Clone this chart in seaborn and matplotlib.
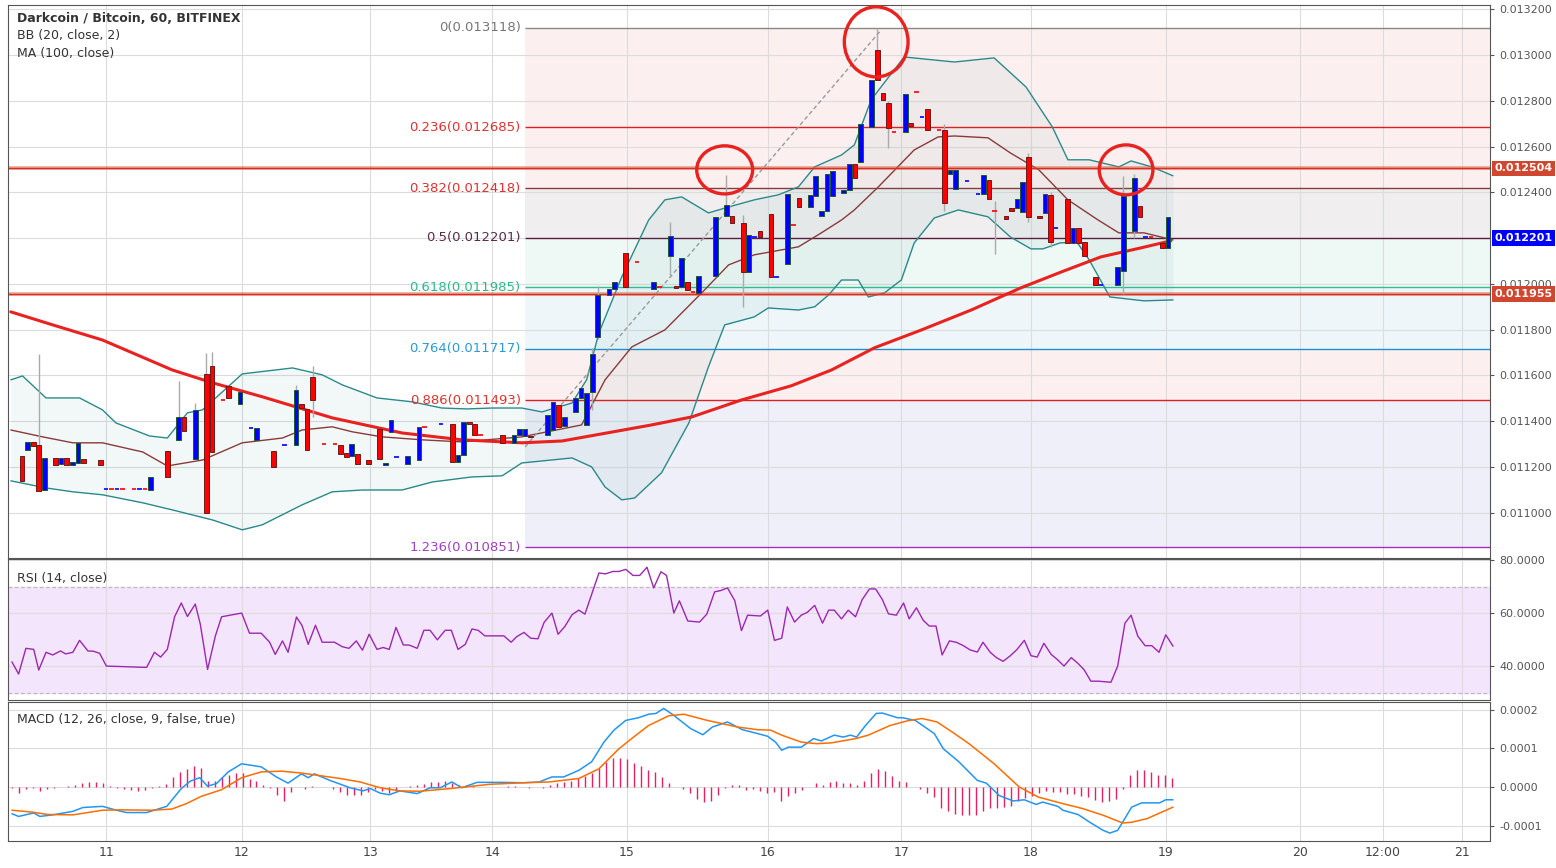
import numpy as np
import pandas as pd
import matplotlib
matplotlib.use("Agg")
import matplotlib.pyplot as plt
from matplotlib.patches import Ellipse
import seaborn as sns

# ─────────────────────────────────────────────
# DATA  (time in hours since chart start, prices in BTC)
# ─────────────────────────────────────────────
candle_hours = [2, 3, 4, 5, 6, 8, 9, 10, 11, 12, 13, 16, 17, 18, 19, 20, 22, 23, 24, 25, 28, 30, 31, 33,
                35, 36, 38, 39, 41, 43, 44, 47, 49, 51, 52, 53, 54, 56, 58, 59, 60, 61, 62, 64, 66, 67,
                68, 69, 71, 73, 74, 77, 79, 80, 81, 82, 83, 84, 88, 90, 91, 92, 93, 96, 97, 98, 99, 101,
                102, 103, 104, 105, 107, 108, 110, 112, 115, 116, 118, 119, 120, 121, 122, 123, 126, 128,
                129, 131, 132, 133, 134, 136, 137, 139, 140, 141, 143, 144, 145, 146, 147, 149, 150, 151,
                152, 154, 155, 156, 157, 158, 160, 161, 162, 163, 164, 166, 167, 168, 169, 171, 173, 174,
                175, 176, 178, 179, 180, 181, 182, 184, 185, 186, 187, 189, 190, 191, 192, 194, 195, 198,
                199, 201, 202, 203, 204, 206, 207]
candle_open = [0.011249, 0.011275, 0.011310, 0.011297, 0.011100, 0.011240, 0.011214, 0.011240, 0.011210,
               0.011218, 0.011236, 0.011231, 0.011105, 0.011105, 0.011105, 0.011105, 0.011105, 0.011105,
               0.011105, 0.011100, 0.011271, 0.011319, 0.011419, 0.011236, 0.011607, 0.011642, 0.011493,
               0.011555, 0.011476, 0.011371, 0.011319, 0.011271, 0.011297, 0.011297, 0.011476, 0.011454,
               0.011594, 0.011301, 0.011301, 0.011297, 0.011262, 0.011249, 0.011258, 0.011231, 0.011367,
               0.011210, 0.011354, 0.011245, 0.011214, 0.011231, 0.011376, 0.011389, 0.011389, 0.011223,
               0.011253, 0.011397, 0.011389, 0.011341, 0.011341, 0.011306, 0.011341, 0.011336, 0.011336,
               0.011341, 0.011362, 0.011472, 0.011380, 0.011441, 0.011502, 0.011384, 0.011528, 0.011769,
               0.011952, 0.011978, 0.012135, 0.012096, 0.011978, 0.011987, 0.012122, 0.011991, 0.011987,
               0.012009, 0.011965, 0.011961, 0.012035, 0.012297, 0.012297, 0.012266, 0.012052, 0.012205,
               0.012231, 0.012306, 0.012031, 0.012087, 0.012258, 0.012376, 0.012336, 0.012384, 0.012297,
               0.012319, 0.012384, 0.012397, 0.012410, 0.012524, 0.012533, 0.012686, 0.013022, 0.012834,
               0.012790, 0.012664, 0.012664, 0.012703, 0.012838, 0.012729, 0.012764, 0.012673, 0.012673,
               0.012480, 0.012415, 0.012450, 0.012393, 0.012393, 0.012454, 0.012319, 0.012297, 0.012332,
               0.012332, 0.012314, 0.012555, 0.012297, 0.012310, 0.012389, 0.012245, 0.012371, 0.012179,
               0.012245, 0.012183, 0.012031, 0.011996, 0.011996, 0.012057, 0.012231, 0.012341, 0.012205,
               0.012205, 0.012179, 0.012157]
candle_close = [0.011140, 0.011310, 0.011293, 0.011096, 0.011240, 0.011210, 0.011240, 0.011210, 0.011223,
                0.011306, 0.011218, 0.011210, 0.011105, 0.011105, 0.011105, 0.011105, 0.011105, 0.011105,
                0.011105, 0.011157, 0.011157, 0.011419, 0.011358, 0.011450, 0.011000, 0.011266, 0.011493,
                0.011502, 0.011528, 0.011371, 0.011371, 0.011201, 0.011297, 0.011537, 0.011458, 0.011275,
                0.011493, 0.011301, 0.011301, 0.011258, 0.011245, 0.011301, 0.011214, 0.011214, 0.011236,
                0.011218, 0.011406, 0.011245, 0.011249, 0.011376, 0.011376, 0.011389, 0.011223, 0.011253,
                0.011397, 0.011389, 0.011341, 0.011341, 0.011306, 0.011341, 0.011367, 0.011367, 0.011332,
                0.011428, 0.011485, 0.011376, 0.011419, 0.011502, 0.011546, 0.011524, 0.011694, 0.011952,
                0.011978, 0.012009, 0.011987, 0.012096, 0.012009, 0.011987, 0.012210, 0.011983, 0.012114,
                0.011974, 0.011965, 0.012035, 0.012293, 0.012345, 0.012266, 0.012052, 0.012214, 0.012205,
                0.012205, 0.012031, 0.012031, 0.012393, 0.012258, 0.012336, 0.012389, 0.012472, 0.012319,
                0.012480, 0.012493, 0.012410, 0.012524, 0.012463, 0.012699, 0.012891, 0.012891, 0.012804,
                0.012681, 0.012664, 0.012830, 0.012690, 0.012838, 0.012729, 0.012673, 0.012673, 0.012354,
                0.012498, 0.012498, 0.012450, 0.012393, 0.012476, 0.012371, 0.012319, 0.012284, 0.012319,
                0.012371, 0.012445, 0.012293, 0.012288, 0.012393, 0.012183, 0.012245, 0.012179, 0.012245,
                0.012179, 0.012122, 0.011996, 0.011996, 0.012074, 0.012384, 0.012463, 0.012293, 0.012205,
                0.012205, 0.012157, 0.012293]

wick_hours = [5, 30, 33, 35, 36, 51, 54, 104, 105, 118, 128, 131, 155, 157, 167, 176, 182, 186, 199, 201]
wick_low = [0.011096, 0.011319, 0.011236, 0.011000, 0.011266, 0.011297, 0.011420, 0.011450, 0.011760,
            0.012030, 0.012297, 0.011900, 0.012891, 0.012594, 0.012320, 0.012131, 0.012270, 0.012160,
            0.011957, 0.012200]
wick_high = [0.011694, 0.011576, 0.011480, 0.011699, 0.011703, 0.011560, 0.011640, 0.011720, 0.011990,
             0.012270, 0.012476, 0.012300, 0.013118, 0.012800, 0.012700, 0.012360, 0.012570, 0.012400,
             0.012472, 0.012480]

ma_hours = [0, 7.5, 16.4, 28.9, 36.1, 45, 57.5, 70, 80.7, 91.4, 98.6, 105.7, 114.6, 121.8, 130.7, 139.6,
            146.8, 154.5, 162.9, 171.8, 180.7, 187.9, 195, 202.1, 207.5]
ma_vals = [0.011878, 0.011821, 0.011755, 0.011624, 0.011568, 0.011507, 0.011415, 0.011349, 0.011319,
           0.011306, 0.011314, 0.011345, 0.011384, 0.011419, 0.011493, 0.011555, 0.011624, 0.011721,
           0.011799, 0.011886, 0.011983, 0.012052, 0.012118, 0.012157, 0.012188]

bb_up_hours = [0, 2.1, 6.3, 12.3, 16.4, 18.8, 24.8, 28, 31.6, 34.3, 41.4, 50.4, 55.7, 59.3, 65.5, 71.8,
               77.1, 81.6, 86.1, 91.4, 95, 100.4, 103, 105.2, 109.3, 114.1, 117, 120, 124.8, 128.4, 133,
               137.3, 140.9, 143.8, 148.6, 150.9, 153.9, 159.8, 168.8, 175.9, 181.6, 186.3, 189.1, 192.9,
               198.2, 200.4, 204.1, 207.9]
bb_up_vals = [0.011581, 0.011598, 0.011502, 0.011502, 0.011450, 0.011393, 0.011336, 0.011327, 0.011437,
              0.011450, 0.011607, 0.011633, 0.011603, 0.011559, 0.011502, 0.011485, 0.011458, 0.011454,
              0.011458, 0.011458, 0.011441, 0.011480, 0.011581, 0.011786, 0.012031, 0.012279, 0.012367,
              0.012380, 0.012310, 0.012336, 0.012367, 0.012389, 0.012424, 0.012511, 0.012563, 0.012607,
              0.012804, 0.012991, 0.012969, 0.012987, 0.012860, 0.012686, 0.012542, 0.012542, 0.012511,
              0.012537, 0.012511, 0.012472]
bb_lo_hours = [0, 6.3, 11.1, 16.4, 23.6, 28.9, 36.1, 41.4, 45, 52.1, 57.5, 62.9, 70, 75.4, 82.5, 87.9,
               91.4, 100.4, 103.9, 106.3, 109.3, 111.6, 116.4, 121.3, 124.8, 127.7, 133, 135.5, 140.9,
               143.8, 146.3, 148.6, 151.6, 153.4, 156.3, 159.3, 161.6, 165.2, 169.5, 174.8, 178.8, 182.5,
               184.6, 187.7, 190.7, 192.9, 196.6, 202.7, 207.9]
bb_lo_vals = [0.011140, 0.011109, 0.011092, 0.011079, 0.011044, 0.011013, 0.010969, 0.010926, 0.010948,
              0.011035, 0.011092, 0.011100, 0.011100, 0.011135, 0.011157, 0.011162, 0.011218, 0.011240,
              0.011201, 0.011113, 0.011057, 0.011065, 0.011175, 0.011393, 0.011638, 0.011821, 0.011856,
              0.011895, 0.011886, 0.011900, 0.011952, 0.012017, 0.012017, 0.011943, 0.011961, 0.012017,
              0.012179, 0.012288, 0.012323, 0.012293, 0.012205, 0.012153, 0.012153, 0.012179, 0.012183,
              0.012105, 0.011943, 0.011926, 0.011930]
bb_mid_hours = [0, 5.7, 11.1, 16.4, 23.6, 28, 34.3, 41.4, 48.6, 52.1, 57.5, 61.1, 66.4, 73.6, 80.7, 91.4,
                102.1, 106.3, 111.1, 117, 123.6, 128.4, 133, 140.9, 145, 148.6, 150.9, 155.2, 161.6, 165.9,
                168.8, 174.8, 178.8, 183.9, 189.1, 194.5, 198.2, 202.7, 207.9]
bb_mid_vals = [0.011362, 0.011332, 0.011306, 0.011306, 0.011266, 0.011205, 0.011231, 0.011306, 0.011327,
               0.011362, 0.011376, 0.011354, 0.011332, 0.011319, 0.011310, 0.011332, 0.011384, 0.011581,
               0.011725, 0.011799, 0.011961, 0.012083, 0.012127, 0.012162, 0.012223, 0.012279, 0.012323,
               0.012424, 0.012585, 0.012642, 0.012646, 0.012638, 0.012572, 0.012498, 0.012367, 0.012279,
               0.012223, 0.012223, 0.012192]

fib_ratios = ["0", "0.236", "0.382", "0.5", "0.618", "0.764", "0.886", "1.236"]
fib_levels = [0.013118, 0.012685, 0.012418, 0.012201, 0.011985, 0.011717, 0.011493, 0.010851]
fib_start = 92
trend_hours = [92, 155.7]
trend_vals = [0.011288, 0.013109]
sr_levels = [0.012504, 0.011955]
last_price = 0.012201
price_ticks = [0.0110, 0.0112, 0.0114, 0.0116, 0.0118, 0.0120, 0.0124, 0.0126, 0.0128, 0.0130, 0.0132]
# circled spots: (hour, price, width in hours, height in price)
circles = [(154.8, 0.013057, 11.4, 0.000306), (127.7, 0.012498, 10.0, 0.000210),
           (199.5, 0.012498, 9.6, 0.000218)]

rsi_hours = [0.2, 1.4, 2.7, 4.1, 5, 6.3, 7.5, 8.9, 9.8, 11.1, 12.3, 13.8, 14.8, 15.9, 17.1, 21.6, 24.3,
             25.7, 26.8, 28, 29.3, 30.5, 31.6, 33, 33.9, 35.2, 36.6, 37.7, 41.3, 42.7, 44.8, 46.3, 47.3,
             48.6, 49.6, 51.1, 52.1, 53.2, 54.5, 55.7, 57.9, 59.3, 60.5, 61.8, 62.9, 64.1, 65.5, 66.6,
             67.7, 68.9, 70.2, 71.3, 72.7, 73.9, 75, 76.3, 77.7, 78.8, 80, 81.3, 82.5, 83.6, 84.8, 88.2,
             89.5, 90.5, 91.8, 93, 94.3, 95.4, 96.8, 97.9, 99.1, 100.4, 101.6, 102.7, 105.2, 106.4, 107.7,
             108.8, 110, 111.3, 112.5, 113.8, 115, 116.3, 117.3, 118.6, 119.6, 121.1, 123.2, 124.5, 125.9,
             127, 128.2, 129.5, 130.7, 131.8, 134.1, 135.4, 136.6, 137.9, 138.9, 140.2, 141.4, 142.5,
             143.8, 145.2, 146.3, 147.3, 148.6, 149.8, 151.1, 152.3, 153.6, 154.7, 155.9, 157, 158.4,
             159.7, 160.7, 162, 163.2, 164.3, 165.5, 166.6, 167.9, 169.1, 170.4, 171.6, 172.9, 173.9,
             175.2, 176.3, 177.5, 178.8, 180, 181.3, 182.5, 183.6, 184.8, 186.1, 187.2, 188.4, 189.7,
             190.9, 192, 193.2, 194.5, 196.8, 198, 199.3, 200.4, 201.6, 202.9, 204.1, 205.4, 206.6, 207.9]
rsi_vals = [41.6, 37, 46.7, 46.3, 38.5, 45.2, 44.2, 45.7, 44.6, 45.2, 49.7, 45.7, 45.6, 44.8, 40, 39.7,
            39.5, 45.2, 43.4, 46.3, 58.6, 63.8, 58.7, 63.4, 55.8, 38.7, 51.4, 58.6, 60, 52.4, 52.4, 49,
            44.4, 49.5, 45.2, 58.5, 55.3, 48.2, 55.4, 49, 49, 47.3, 46.7, 49.5, 46, 52, 46.3, 47, 46.3,
            54.6, 48, 47.9, 46.7, 53.5, 53.5, 49.9, 53.5, 53.5, 46.3, 48.2, 54, 53.5, 51.4, 51.4, 49,
            51.1, 52.7, 50.5, 50.3, 56.5, 60, 52, 54.9, 59.4, 61.1, 59.6, 75.1, 74.8, 75.7, 75.7, 76.5,
            74.2, 74.2, 77.3, 69.5, 75.6, 74.2, 60, 64.6, 57, 56.6, 59.6, 68, 68.5, 69.5, 64.7, 53.4,
            59.2, 58.9, 61.1, 49.7, 50.5, 62.3, 56.6, 59.2, 60.3, 62.9, 56.2, 61.1, 61.1, 57.8, 61.1,
            58.6, 65.1, 69.1, 69.1, 65.1, 59.7, 59.2, 63.8, 57.8, 62, 57.3, 55.1, 55.1, 44.2, 49.5, 49,
            47.7, 46.1, 45.3, 49, 45.2, 43.2, 41.8, 43.9, 46.3, 49.7, 43.9, 43.4, 48.6, 44.4, 42.5, 40,
            43.2, 41, 38.6, 34.3, 34.3, 33.9, 40, 56.2, 59.2, 51.3, 47.7, 47.7, 45.2, 51.8, 47.5]

macd_hours = [0.2, 1.4, 4.1, 5.2, 7.5, 11.1, 12.9, 16.4, 18.9, 20.7, 24.3, 27.9, 30.5, 32.1, 33.8, 35.2,
              36.8, 38.9, 41.3, 44.8, 47.5, 49.6, 52, 53.2, 54.3, 57.1, 60.7, 63, 64.3, 66.1, 67.7, 69.6,
              72.7, 75, 76.8, 78.9, 80.7, 83.4, 88.2, 91.8, 94.5, 96.8, 98.9, 101.6, 103.9, 106.1, 107.9,
              110, 112.3, 114.1, 115.4, 116.8, 118.6, 121.6, 123.8, 125.5, 128.2, 130.9, 133.6, 135.4,
              136.8, 137.9, 139.1, 141.4, 143.6, 145, 147.3, 148.9, 150.2, 151.3, 152.9, 154.8, 155.9,
              158.6, 159.5, 161.8, 165.2, 166.8, 169.6, 172.9, 174.5, 176.8, 179.3, 181.3, 183.4, 184.6,
              187.3, 188.2, 190.9, 193, 195.4, 196.6, 198, 200.5, 202.3, 205.5, 206.6, 207.9]
macd_vals = [-0.69, -0.76, -0.67, -0.76, -0.72, -0.63, -0.53, -0.5, -0.6, -0.66, -0.66, -0.5, -0.04,
             0.15, 0.24, 0.02, 0.09, 0.39, 0.6, 0.52, 0.26, 0.1, 0.34, 0.24, 0.34, 0.17, -0.02, -0.1,
             -0.04, -0.16, -0.2, -0.1, -0.17, -0.02, -0.02, 0.13, -0.02, 0.12, 0.12, 0.11, 0.13, 0.26,
             0.26, 0.43, 0.65, 1.16, 1.47, 1.72, 1.79, 1.88, 1.9, 2.03, 1.85, 1.51, 1.35, 1.55, 1.68,
             1.48, 1.38, 1.31, 1.16, 0.95, 1.03, 1.03, 1.25, 1.19, 1.34, 1.29, 1.34, 1.29, 1.59, 1.9,
             1.91, 1.79, 1.79, 1.72, 1.38, 0.99, 0.65, 0.17, 0.1, -0.22, -0.36, -0.33, -0.45, -0.39,
             -0.5, -0.6, -0.71, -0.91, -1.12, -1.19, -1.12, -0.52, -0.41, -0.41, -0.33, -0.33]
signal_hours = [0.2, 3.9, 6.6, 11.1, 16.4, 19.8, 25.2, 28.8, 31.4, 34.1, 37.7, 41.3, 44.8, 48.4, 52, 58.9,
                62.5, 66.1, 69.6, 73.2, 78.6, 85.7, 91.8, 96.3, 101.6, 105.2, 108.8, 111.4, 114.1, 117.7,
                120.4, 124.6, 130, 133.6, 135.9, 137.9, 141.4, 144.1, 146.8, 151.1, 153.4, 157.3, 160.4,
                163, 165.7, 168.4, 171.4, 175.9, 180.4, 183.8, 188.2, 191.8, 195.4, 198.9, 200.5, 203.2,
                207.9]
signal_vals = [-0.6, -0.65, -0.71, -0.72, -0.6, -0.59, -0.6, -0.57, -0.43, -0.24, -0.07, 0.24, 0.39, 0.41,
               0.36, 0.22, 0.13, -0.02, -0.1, -0.11, -0.04, 0.07, 0.11, 0.13, 0.22, 0.47, 0.99, 1.29,
               1.59, 1.84, 1.88, 1.72, 1.55, 1.48, 1.47, 1.34, 1.16, 1.12, 1.14, 1.25, 1.34, 1.59, 1.71,
               1.77, 1.68, 1.42, 1.12, 0.6, 0.0, -0.26, -0.43, -0.56, -0.73, -0.93, -0.91, -0.82, -0.52]
# histogram bars, one every 1.25 h starting at 0.2 h (units of 1e-4)
hist_vals = [-0.03, -0.15, -0.06, -0.02, -0.1, -0.05, -0.02, 0.01, 0.03, 0.06, 0.1, 0.12, 0.12, 0.1, 0.02,
             -0.02, -0.06, -0.08, -0.1, -0.07, -0.03, 0.02, 0.07, 0.25, 0.4, 0.47, 0.53, 0.48, 0.15, 0.15,
             0.25, 0.3, 0.35, 0.37, 0.2, 0.15, 0.05, -0.02, -0.2, -0.35, -0.12, 0.01, -0.06, 0.03, 0.0,
             0.0, -0.05, -0.12, -0.2, -0.2, -0.2, -0.12, -0.05, -0.1, -0.15, -0.1, 0.01, 0.03, 0.06, 0.08,
             0.12, 0.12, 0.15, 0.1, 0.06, 0.04, 0.02, 0.01, 0.0, 0.0, 0.01, 0.02, 0.02, 0.01, -0.02, 0.0,
             -0.02, 0.05, 0.1, 0.12, 0.15, 0.22, 0.28, 0.35, 0.5, 0.65, 0.75, 0.75, 0.72, 0.63, 0.55,
             0.45, 0.38, 0.27, 0.1, 0.0, -0.05, -0.15, -0.3, -0.38, -0.37, -0.2, -0.02, 0.05, 0.05, -0.08,
             -0.06, -0.1, -0.15, -0.13, -0.35, -0.22, -0.16, -0.08, 0.0, 0.1, 0.06, 0.13, 0.16, 0.1, 0.1,
             0.04, 0.15, 0.35, 0.46, 0.42, 0.28, 0.16, 0.12, 0.0, -0.04, -0.15, -0.25, -0.55, -0.63, -0.7,
             -0.72, -0.73, -0.72, -0.62, -0.55, -0.55, -0.52, -0.48, -0.37, -0.28, -0.22, -0.15, -0.1,
             -0.12, -0.14, -0.18, -0.18, -0.22, -0.26, -0.34, -0.38, -0.36, -0.3, -0.05, 0.3, 0.45, 0.43,
             0.38, 0.3, 0.3, 0.22]

tick_hours = [17.1, 41.3, 64.3, 86.1, 110.2, 135.4, 159.3, 182.5, 206.6, 230.7, 245.4, 259.6]
tick_labels = ["11", "12", "13", "14", "15", "16", "17", "18", "19", "20", "12:00", "21"]

# ─────────────────────────────────────────────
# FIGURE
# ─────────────────────────────────────────────
sns.set_style("white")
plt.rcParams["font.family"] = "DejaVu Sans"
fig = plt.figure(figsize=(15.56, 8.68), dpi=100)
fig.patch.set_facecolor("white")
L, W = 8 / 1556, (1490 - 8) / 1556
ax = fig.add_axes([L, 1 - 558 / 868, W, 553 / 868])
ax_rsi = fig.add_axes([L, 1 - 700 / 868, W, 141 / 868])
ax_macd = fig.add_axes([L, 1 - 841 / 868, W, 139 / 868])
XMAX = 264.6
grid_c = "#dcdcdc"

for a in (ax, ax_rsi, ax_macd):
    a.set_xlim(-0.5, XMAX)
    a.set_xticks(tick_hours)
    a.grid(True, color=grid_c, lw=0.8)
    a.yaxis.tick_right()
    a.tick_params(axis="y", labelsize=8, colors="#555555", length=3)
    a.tick_params(axis="x", length=0)
    for s in a.spines.values():
        s.set_color("#555555")
        s.set_linewidth(0.8)
    a.set_axisbelow(True)
ax.set_xticklabels([])
ax_rsi.set_xticklabels([])
ax_macd.set_xticklabels(tick_labels, fontsize=9, color="#444444")

# ── main price panel
ax.set_ylim(0.010803, 0.013218)
ax.set_yticks(price_ticks)
ax.yaxis.set_major_formatter(matplotlib.ticker.FormatStrFormatter("%.6f"))
for lv in (0.0108, 0.0122):
    ax.axhline(lv, color=grid_c, lw=0.8, zorder=0)

# fibonacci zones
fib_fill = ["#fcefef", "#fcefef", "#f0eeee", "#eef8f4", "#eef6fa", "#fcefef", "#eeeff8"]
fib_line = ["#888888", "#e02020", "#8a3a3a", "#5a1a3a", "#30c090", "#2090d0", "#e02020", "#a030c0"]
fib_text = ["#777777", "#e03030", "#e03030", "#5a2a4a", "#2aba8a", "#2a9ad8", "#e03030", "#a040c0"]
for i in range(len(fib_levels) - 1):
    ax.fill_between([fib_start, XMAX], fib_levels[i + 1], fib_levels[i], color=fib_fill[i], lw=0, zorder=0)
for r, lv, lc, tc in zip(fib_ratios, fib_levels, fib_line, fib_text):
    ax.hlines(lv, fib_start, XMAX, color=lc, lw=1, zorder=1)
    ax.text(fib_start - 0.8, lv, f"{r}({lv:.6f})", color=tc, fontsize=9.5, ha="right", va="center")

# bollinger bands
up = pd.DataFrame({"h": bb_up_hours, "v": bb_up_vals})
lo = pd.DataFrame({"h": bb_lo_hours, "v": bb_lo_vals})
grid_h = np.union1d(up.h, lo.h)
ax.fill_between(grid_h, np.interp(grid_h, lo.h, lo.v), np.interp(grid_h, up.h, up.v),
                color="#2a9090", alpha=0.06, lw=0, zorder=1)
sns.lineplot(data=up, x="h", y="v", ax=ax, color="#2a8a8a", lw=1, sort=False, zorder=2)
sns.lineplot(data=lo, x="h", y="v", ax=ax, color="#2a8a8a", lw=1, sort=False, zorder=2)
sns.lineplot(x=bb_mid_hours, y=bb_mid_vals, ax=ax, color="#8b3a3a", lw=1, sort=False, zorder=2)
sns.lineplot(x=ma_hours, y=ma_vals, ax=ax, color="#e8231f", lw=2.2, sort=False, zorder=3)

# support / resistance lines
for lv in sr_levels:
    ax.axhline(lv, color="#e05a40", lw=2.6, alpha=0.55, zorder=2)
    ax.axhline(lv, color="#d83020", lw=1.0, zorder=2)

# trend line
ax.plot(trend_hours, trend_vals, color="#999999", lw=1, ls=(0, (3, 2)), zorder=2)

# candles
c_df = pd.DataFrame({"h": candle_hours, "o": candle_open, "c": candle_close})
for hh, lw_, hi in zip(wick_hours, wick_low, wick_high):
    ax.vlines(hh, lw_, hi, color="#aaaaaa", lw=1, zorder=3)
for _, r in c_df.iterrows():
    body = abs(r.c - r.o)
    if body < 1e-7:
        col = "#0000ff" if r.h % 2 else "#ff0000"
        ax.hlines(r.o, r.h - 0.4, r.h + 0.4, color=col, lw=1.2, zorder=4)
        continue
    up_c = r.c > r.o
    ax.bar(r.h, body, bottom=min(r.o, r.c), width=0.85,
           color="#0000ff" if up_c else "#ff0000",
           edgecolor="#1d5a2c" if up_c else "#6b1a1a", lw=0.7, zorder=4)

# circled points
for (ch, cp, cw, chh) in circles:
    ax.add_patch(Ellipse((ch, cp), cw, chh, fill=False, edgecolor="#e8221f", lw=2.4, zorder=5))

# header
ax.text(0.006, 0.975, "Darkcoin / Bitcoin, 60, BITFINEX", transform=ax.transAxes, fontsize=9,
        fontweight="bold", color="#333333", va="center")
ax.text(0.006, 0.944, "BB (20, close, 2)", transform=ax.transAxes, fontsize=9, color="#333333", va="center")
ax.text(0.006, 0.913, "MA (100, close)", transform=ax.transAxes, fontsize=9, color="#333333", va="center")

# price tags on right axis
for lv, fc in [(sr_levels[0], "#d0462e"), (sr_levels[1], "#d0462e"), (last_price, "#0000ff")]:
    ax.text(1.003, lv, f"{lv:.6f}", transform=ax.get_yaxis_transform(), fontsize=8, fontweight="bold",
            color="white", va="center", ha="left",
            bbox=dict(boxstyle="square,pad=0.25", fc=fc, ec="none"))

# ── RSI panel
ax_rsi.set_ylim(27.2, 80.4)
ax_rsi.set_yticks([40, 60, 80])
ax_rsi.yaxis.set_major_formatter(matplotlib.ticker.FormatStrFormatter("%.4f"))
ax_rsi.axhspan(30, 70, color="#f3e5fb", zorder=0)
for lv in (30, 70):
    ax_rsi.axhline(lv, color="#bbbbbb", lw=0.9, ls=(0, (3, 2)), zorder=1)
sns.lineplot(x=rsi_hours, y=rsi_vals, ax=ax_rsi, color="#9c27b0", lw=1, sort=False, zorder=3)
ax_rsi.text(0.006, 0.84, "RSI (14, close)", transform=ax_rsi.transAxes, fontsize=9, color="#333333")

# ── MACD panel
hist_df = pd.DataFrame({"v": np.array(hist_vals) * 1e-4})
hist_df["h"] = 0.2 + 1.25 * np.arange(len(hist_df))
ax_macd.set_ylim(-0.0001395, 0.0002196)
ax_macd.set_yticks([-0.0001, 0, 0.0001, 0.0002])
ax_macd.yaxis.set_major_formatter(matplotlib.ticker.FormatStrFormatter("%.4f"))
ax_macd.vlines(hist_df.h, 0, hist_df.v, color="#e91e63", lw=1, zorder=2)
sns.lineplot(x=macd_hours, y=np.array(macd_vals) * 1e-4, ax=ax_macd, color="#2196f3", lw=1.1,
             sort=False, zorder=3)
sns.lineplot(x=signal_hours, y=np.array(signal_vals) * 1e-4, ax=ax_macd, color="#ff6d00", lw=1.1,
             sort=False, zorder=3)
ax_macd.text(0.006, 0.85, "MACD (12, 26, close, 9, false, true)", transform=ax_macd.transAxes,
             fontsize=9, color="#333333")

for a in (ax, ax_rsi, ax_macd):
    a.set_xlabel("")
    a.set_ylabel("")

fig.savefig("out.png", dpi=100)
